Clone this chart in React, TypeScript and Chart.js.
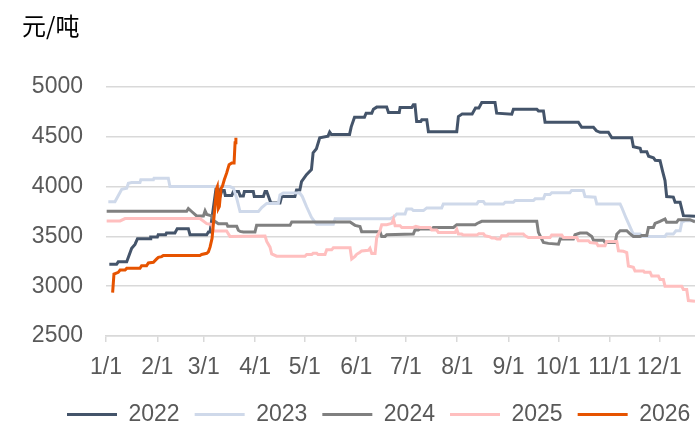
import React, { useEffect, useRef } from "react";
import { Chart, registerables } from "chart.js";

Chart.register(...registerables);

// ---- Axis / legend definitions ----
const unitLabel = "元/吨";
const seriesNames = ["2022", "2023", "2024", "2025", "2026"];
const seriesColors = ["#44546a", "#cfd9ea", "#808080", "#ffbfbf", "#e65300"];
const monthTickDays = [0, 31, 59, 90, 120, 151, 181, 212, 243, 273, 304, 334];
const monthTickLabels = ["1/1", "2/1", "3/1", "4/1", "5/1", "6/1", "7/1", "8/1", "9/1", "10/1", "11/1", "12/1"];
const yMin = 2500;
const yMax = 5000;
const yStep = 500;
const xMaxDay = 355.5;

// ---- Series: day of year (0 = Jan 1) and price (元/吨) ----
const days2022 = [2, 6.4, 7.4, 12.5, 13.5, 15.5, 17.5, 19, 26.6, 27, 31, 31.5, 36, 36.5, 41.6, 43, 49.7, 50.7, 60.8, 61.8, 62.8, 66.5, 67.5, 69, 70, 71.4, 72, 75.9, 76.9, 80, 81, 82.9, 83.5, 88.9, 89.5, 95, 96, 97, 99.5, 105, 106, 114, 115, 117, 118, 121, 124, 125, 127, 129, 134, 135, 136, 147, 148, 150, 156, 157, 160.4, 161.4, 163.4, 169.4, 170.5, 177, 177.5, 184.5, 185.5, 186.5, 187.5, 190, 190.6, 193.6, 194.6, 211.7, 212.7, 215, 221, 223, 225, 226.8, 234.8, 235.8, 244.9, 245.9, 260, 261, 264, 265, 285.1, 287.1, 294.2, 296, 298.2, 303.2, 305.3, 317.3, 318.3, 322.4, 323, 326.4, 327.5, 330.4, 331.5, 334.4, 336, 337.4, 338.4, 342.4, 343.5, 346.5, 348.5, 355.5];
const values2022 = [3220, 3220, 3245, 3245, 3290, 3380, 3420, 3477, 3477, 3494, 3494, 3517, 3517, 3534, 3534, 3578, 3578, 3517, 3517, 3544, 3544, 3990, 3990, 3910, 3960, 3960, 3910, 3910, 3950, 3950, 3905, 3905, 3950, 3950, 3900, 3900, 3950, 3950, 3835, 3835, 3900, 3900, 3966, 3966, 4050, 4120, 4170, 4340, 4380, 4490, 4507, 4547, 4524, 4524, 4600, 4697, 4697, 4737, 4737, 4777, 4798, 4798, 4744, 4744, 4794, 4794, 4821, 4821, 4653, 4653, 4670, 4670, 4551, 4551, 4703, 4730, 4730, 4788, 4788, 4845, 4845, 4737, 4727, 4777, 4777, 4760, 4760, 4646, 4646, 4595, 4595, 4560, 4545, 4545, 4490, 4490, 4400, 4385, 4350, 4350, 4305, 4290, 4265, 4260, 4150, 4060, 3900, 3895, 3843, 3843, 3708, 3702];

const days2023 = [1.4, 5.4, 9.5, 12.5, 13.5, 15.5, 20.5, 21, 28.6, 29, 37.6, 38.6, 74.8, 76.9, 78.9, 80.9, 92, 94, 97, 104, 105, 107, 117, 118.5, 121, 124, 126.2, 127.2, 137.2, 138.3, 171.4, 174, 175.5, 180.5, 181.5, 184.5, 185.5, 191.6, 193.6, 202.6, 203.6, 223.8, 224.8, 227.8, 228.8, 239.9, 240.9, 245.9, 246.9, 258, 259, 264, 265, 268, 269, 280, 281, 288.1, 289.1, 295.2, 296.2, 310.3, 311.3, 314, 317.3, 318.3, 322.4, 323.4, 337.4, 338.4, 342.4, 344, 346.5, 347.5, 349.5, 355.5];
const values2023 = [3848, 3848, 3973, 3983, 4034, 4040, 4040, 4068, 4068, 4085, 4085, 4000, 4000, 3985, 3882, 3750, 3750, 3790, 3831, 3831, 3916, 3935, 3935, 3900, 3800, 3692, 3640, 3622, 3622, 3677, 3677, 3700, 3725, 3725, 3776, 3776, 3759, 3759, 3786, 3786, 3826, 3826, 3850, 3850, 3826, 3826, 3843, 3843, 3860, 3860, 3877, 3877, 3921, 3921, 3938, 3938, 3961, 3961, 3901, 3894, 3826, 3826, 3790, 3680, 3557, 3523, 3523, 3500, 3500, 3523, 3523, 3557, 3557, 3641, 3658, 3658];

const days2024 = [0.4, 48.7, 49.7, 51.7, 54.7, 58.8, 59.8, 60.8, 63.8, 64.8, 67.8, 72.8, 73.5, 78.9, 79.9, 81, 82.9, 89.9, 90.9, 111.1, 112.1, 147.3, 150.3, 153.3, 154.3, 165.4, 166.4, 168.4, 169.4, 185.5, 186.5, 188.5, 189.5, 196.6, 197.6, 209.7, 211.7, 222.8, 224, 226.8, 260, 261, 263, 264, 267, 273.1, 274.1, 282.1, 283.1, 286.1, 290.2, 293.2, 294.2, 300.2, 301.2, 307.3, 308.3, 310.3, 314.3, 316, 318.3, 322.4, 323.4, 326.4, 327.4, 330.4, 331.4, 334.4, 337.4, 338.4, 344.4, 345.5, 352.5, 355.5];
const values2024 = [3753, 3753, 3780, 3750, 3706, 3706, 3757, 3720, 3706, 3662, 3628, 3628, 3601, 3601, 3561, 3550, 3544, 3544, 3611, 3611, 3645, 3645, 3611, 3600, 3547, 3547, 3500, 3500, 3516, 3523, 3564, 3564, 3574, 3574, 3590, 3590, 3617, 3617, 3630, 3651, 3651, 3540, 3473, 3439, 3430, 3422, 3473, 3473, 3516, 3533, 3533, 3500, 3462, 3462, 3439, 3439, 3523, 3557, 3557, 3530, 3500, 3500, 3510, 3510, 3590, 3590, 3631, 3650, 3675, 3641, 3641, 3668, 3668, 3645];

const days2025 = [0.4, 8.5, 11.5, 56.7, 60.8, 63.8, 64.8, 72.8, 74.8, 96, 97, 99, 100, 103, 120.1, 121.1, 124.2, 125, 127.2, 128, 132.2, 133.2, 136.2, 137.2, 147.3, 148.3, 150.3, 151.3, 153.3, 154.3, 158.3, 159.3, 160.4, 162.4, 163.4, 165.4, 166.4, 169.4, 172.5, 173.5, 174.5, 177.5, 178.5, 185.5, 187, 189.5, 195.6, 196.6, 199.6, 200.6, 210.7, 211.7, 212.7, 214.7, 215.7, 223.8, 225, 227.8, 228.8, 231.8, 232.9, 234.8, 236, 237.8, 238.8, 241.9, 242.9, 251.9, 253, 254.9, 268, 269, 275.1, 276.1, 284.1, 285.1, 291.2, 292.2, 296.2, 297, 301.2, 302.2, 308.3, 309.3, 312.3, 314.3, 315.3, 318.3, 319.3, 324.4, 325, 328.4, 329.4, 333.4, 334.4, 336.4, 337.4, 347.5, 348.5, 350.5, 351.5, 355.5];
const values2025 = [3655, 3655, 3679, 3679, 3628, 3620, 3554, 3554, 3500, 3503, 3450, 3392, 3324, 3301, 3301, 3318, 3318, 3330, 3330, 3318, 3318, 3365, 3365, 3385, 3385, 3274, 3300, 3320, 3341, 3354, 3360, 3380, 3328, 3328, 3489, 3560, 3617, 3617, 3631, 3675, 3607, 3607, 3590, 3590, 3600, 3590, 3590, 3564, 3564, 3540, 3540, 3570, 3523, 3523, 3513, 3513, 3527, 3527, 3506, 3495, 3483, 3483, 3473, 3473, 3506, 3506, 3523, 3523, 3506, 3489, 3489, 3513, 3513, 3489, 3489, 3456, 3456, 3439, 3430, 3405, 3405, 3449, 3449, 3355, 3350, 3338, 3203, 3190, 3152, 3152, 3140, 3140, 3102, 3102, 3068, 3068, 3000, 3000, 2967, 2967, 2856, 2849];

const days2026 = [4, 4.8, 7.4, 8.5, 11.5, 12.5, 20.5, 21.5, 24.5, 25.6, 28.6, 30.6, 31.6, 33.6, 34.6, 56.7, 57.7, 60.8, 61.8, 62.8, 64, 66.8, 67.2, 67.8, 68.4, 69.4, 70.2, 71.4, 72.8, 74.3, 75.9, 77.3, 77.9, 78.4];
const values2026 = [2936, 3122, 3139, 3162, 3162, 3179, 3179, 3206, 3206, 3233, 3240, 3274, 3290, 3297, 3308, 3308, 3318, 3330, 3345, 3392, 3480, 3983, 4000, 3780, 3800, 3983, 4000, 4068, 4135, 4220, 4237, 4237, 4440, 4490];

const seriesDays = [days2022, days2023, days2024, days2025, days2026];
const seriesValues = [values2022, values2023, values2024, values2025, values2026];

const FONT = '"Liberation Sans", Arial, sans-serif';
const TEXT_COLOR = "#595959";
const GRID_COLOR = "#d9d9d9";
const LEGEND_LEFT = 52;

const unitTitlePlugin = {
  id: "unitTitle",
  afterLayout(chart: any) {
    // place the legend row where the reference has it (starts at x≈67)
    const lg = chart.legend;
    if (lg) {
      const w = lg.right - lg.left;
      lg.left = LEGEND_LEFT;
      lg.right = LEGEND_LEFT + w;
    }
  },
  afterDraw(chart: any) {
    const ctx = chart.ctx;
    ctx.save();
    ctx.font = '24px "Noto Sans CJK SC", sans-serif';
    ctx.fillStyle = "#000000";
    ctx.textAlign = "left";
    ctx.textBaseline = "middle";
    ctx.fillText(unitLabel, 22, 26);
    ctx.restore();
  },
};

export default function App() {
  const canvasRef = useRef<HTMLCanvasElement | null>(null);

  useEffect(() => {
    document.body.style.margin = "0";
    const canvas = canvasRef.current;
    if (!canvas) return;

    const datasets = seriesNames.map((name, i) => ({
      label: name,
      data: seriesDays[i].map((d, j) => ({ x: d, y: seriesValues[i][j] })),
      borderColor: seriesColors[i],
      backgroundColor: seriesColors[i],
      borderWidth: 3,
      pointRadius: 0,
      pointHoverRadius: 0,
      tension: 0,
      fill: false,
      order: seriesNames.length - 1 - i,
    }));

    const chart = new Chart(canvas, {
      type: "line",
      data: { datasets },
      plugins: [unitTitlePlugin],
      options: {
        animation: false,
        responsive: false,
        devicePixelRatio: 1,
        events: [],
        layout: { padding: { left: 0, top: 87, right: 0, bottom: -11 } },
        plugins: {
          tooltip: { enabled: false },
          title: { display: false },
          legend: {
            display: true,
            position: "bottom",
            align: "start",
            labels: {
              usePointStyle: true,
              pointStyle: "line",
              pointStyleWidth: 50,
              boxHeight: 23,
              padding: 15,
              color: TEXT_COLOR,
              font: { family: FONT, size: 23 },
              sort: (a: any, b: any) => a.datasetIndex - b.datasetIndex,
            },
          },
        },
        scales: {
          x: {
            type: "linear",
            min: 0,
            max: xMaxDay,
            afterBuildTicks: (scale: any) => {
              scale.ticks = monthTickDays.map((v) => ({ value: v }));
            },
            afterFit: (scale: any) => {
              scale.height = 52;
            },
            ticks: {
              autoSkip: false,
              maxRotation: 0,
              minRotation: 0,
              padding: 12,
              color: TEXT_COLOR,
              font: { family: FONT, size: 23 },
              callback: (_v: any, index: number) => monthTickLabels[index],
            },
            grid: {
              display: true,
              drawOnChartArea: false,
              drawTicks: true,
              tickLength: 6,
              color: GRID_COLOR,
              lineWidth: 1.5,
            },
            border: { display: true, color: GRID_COLOR, width: 1.5 },
          },
          y: {
            type: "linear",
            min: yMin,
            max: yMax,
            afterFit: (scale: any) => {
              scale.width = 106;
            },
            ticks: {
              stepSize: yStep,
              padding: 23,
              color: TEXT_COLOR,
              font: { family: FONT, size: 23 },
              callback: (v: any) => String(v),
            },
            grid: {
              color: GRID_COLOR,
              lineWidth: 1.5,
              drawTicks: false,
            },
            border: { display: false },
          },
        },
      },
    } as any);

    return () => {
      chart.destroy();
    };
  }, []);

  return (
    <div style={{ width: 695, height: 425, position: "relative", background: "#ffffff" }}>
      <canvas ref={canvasRef} width={695} height={425} style={{ display: "block" }} />
    </div>
  );
}
